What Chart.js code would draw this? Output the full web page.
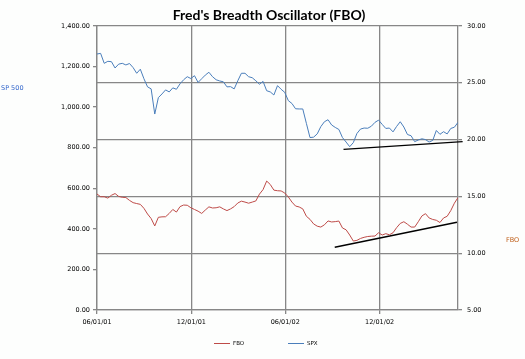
<!DOCTYPE html>
<html>
<head>
<meta charset="utf-8">
<script src="https://cdn.jsdelivr.net/npm/chart.js@4.4.0/dist/chart.umd.min.js"></script>
<style>
html, body { margin: 0; padding: 0; background: #fdfefd; }
#wrap { width: 525px; height: 359px; }
</style>
</head>
<body>
<div id="wrap"><canvas id="c" width="525" height="359"></canvas></div>
<script>
var chartTitle = "Fred's Breadth Oscillator (FBO)";
var startDate = '2001-06-01';   // first weekly reading

// weekly closes
var spx = [1262, 1265, 1216, 1226, 1224, 1193, 1212, 1216, 1208, 1215,
    1195, 1167, 1187, 1140, 1100, 1090, 966, 1047, 1065, 1085,
    1075, 1095, 1088, 1115, 1135, 1150, 1141, 1155, 1122, 1140,
    1158, 1172, 1150, 1135, 1129, 1125, 1100, 1101, 1090, 1130,
    1167, 1167, 1150, 1145, 1130, 1113, 1127, 1081, 1075, 1060,
    1106, 1088, 1073, 1032, 1018, 992, 991, 991, 920, 850,
    852, 868, 904, 928, 938, 912, 900, 890, 850, 828,
    805, 825, 870, 892, 897, 896, 906, 925, 936, 915,
    895, 897, 878, 905, 928, 902, 865, 859, 830, 838,
    844, 840, 828, 836, 885, 866, 879, 868, 895, 901,
    925];

var fbo = [15.21, 14.97, 14.97, 14.85, 15.1, 15.25, 15.0, 14.92, 14.9, 14.65,
    14.45, 14.37, 14.3, 13.95, 13.45, 13.05, 12.4, 13.16, 13.2, 13.21,
    13.5, 13.85, 13.62, 14.1, 14.24, 14.22, 14.0, 13.85, 13.7, 13.5,
    13.8, 14.08, 13.98, 14.0, 14.08, 13.9, 13.75, 13.9, 14.1, 14.42,
    14.58, 14.5, 14.4, 14.5, 14.6, 15.2, 15.6, 16.35, 16.05, 15.55,
    15.5, 15.48, 15.3, 14.95, 14.5, 14.15, 14.07, 13.9, 13.25, 12.98,
    12.58, 12.38, 12.3, 12.5, 12.84, 12.75, 12.78, 12.83, 12.22, 12.06,
    11.6, 11.07, 11.13, 11.3, 11.4, 11.47, 11.5, 11.51, 11.8, 11.6,
    11.72, 11.62, 11.8, 12.25, 12.62, 12.77, 12.55, 12.3, 12.3, 12.77,
    13.28, 13.48, 13.1, 12.97, 12.9, 12.7, 13.1, 13.25, 13.75, 14.4,
    14.9];

// hand drawn support lines
var spxTrendDates = ['2002-09-22', '2003-05-11'];
var spxTrendValues = [792, 830];
var fboTrendDates = ['2002-09-05', '2003-04-30'];
var fboTrendValues = [10.52, 12.72];

var xTickDates = ['2001-06-01', '2001-12-01', '2002-06-01', '2002-12-01'];
var xTickLabels = ['06/01/01', '12/01/01', '06/01/02', '12/01/02'];

var gridColor = '#878787';
var tickFont = { family: 'DejaVu Sans', size: 6.5 };

function dayOf(s) {
    return (Date.parse(s) - Date.parse(startDate)) / 86400000;
}

function weekly(values) {
    return values.map(function (v, i) { return { x: i * 7, y: v }; });
}

function pairs(dates, values) {
    return dates.map(function (d, i) { return { x: dayOf(d), y: values[i] }; });
}

function money(v) {
    return Number(v).toLocaleString('en-US', { minimumFractionDigits: 2, maximumFractionDigits: 2 });
}

var series = [
    { label: 'FBO', color: '#be4b48' },
    { label: 'SPX', color: '#4a7ebb' }
];

// title, the two axis names and the legend
var textPlugin = {
    id: 'texts',
    afterDraw: function (chart) {
        var ctx = chart.ctx;
        ctx.save();
        ctx.textBaseline = 'middle';

        ctx.fillStyle = '#000';
        ctx.textAlign = 'center';
        ctx.font = "bold 14px 'Liberation Sans Narrow', Lato, sans-serif";
        ctx.fillText(chartTitle, 269, 15);

        ctx.textAlign = 'left';
        ctx.font = '6.5px DejaVu Sans';
        ctx.fillStyle = '#3366cc';
        ctx.fillText('SP 500', 1, 88);
        ctx.fillStyle = '#c0601c';
        ctx.fillText('FBO', 506, 240);

        var lx = [214, 288];
        ctx.font = '5.5px DejaVu Sans';
        for (var i = 0; i < series.length; i++) {
            ctx.strokeStyle = series[i].color;
            ctx.lineWidth = 1;
            ctx.beginPath();
            ctx.moveTo(lx[i], 343.5);
            ctx.lineTo(lx[i] + 16, 343.5);
            ctx.stroke();
            ctx.fillStyle = '#000';
            ctx.fillText(series[i].label, lx[i] + 19, 343.5);
        }
        ctx.restore();
    }
};

var ctx = document.getElementById('c').getContext('2d');
new Chart(ctx, {
    type: 'line',
    data: {
        datasets: [
            { label: 'FBO', data: weekly(fbo), yAxisID: 'y1', borderColor: series[0].color, borderWidth: 1, pointRadius: 0, tension: 0 },
            { label: 'SPX', data: weekly(spx), yAxisID: 'y', borderColor: series[1].color, borderWidth: 1, pointRadius: 0, tension: 0 },
            { label: 'spxTrend', data: pairs(spxTrendDates, spxTrendValues), yAxisID: 'y', borderColor: '#000', borderWidth: 1.4, pointRadius: 0, clip: false },
            { label: 'fboTrend', data: pairs(fboTrendDates, fboTrendValues), yAxisID: 'y1', borderColor: '#000', borderWidth: 1.4, pointRadius: 0, clip: false }
        ]
    },
    options: {
        responsive: false,
        animation: false,
        devicePixelRatio: 1,
        layout: { padding: { left: 0, right: 0, top: 26, bottom: 30 } },
        plugins: { legend: { display: false }, tooltip: { enabled: false } },
        scales: {
            x: {
                type: 'linear',
                min: 0,
                max: 700,
                afterBuildTicks: function (s) {
                    s.ticks = xTickDates.map(function (d) { return { value: dayOf(d) }; });
                },
                afterFit: function (s) { s.height = 19; },
                ticks: {
                    autoSkip: false, maxRotation: 0, padding: 4, color: '#000', font: tickFont,
                    callback: function (v, i) { return xTickLabels[i]; }
                },
                grid: { color: gridColor, lineWidth: 1.3, tickLength: 4 },
                border: { color: gridColor, width: 1.3 }
            },
            y: {
                position: 'left',
                min: 0,
                max: 1400,
                afterFit: function (s) { s.width = 97; },
                ticks: { stepSize: 200, padding: 3, color: '#000', font: tickFont, callback: money },
                grid: { drawOnChartArea: false, color: gridColor, lineWidth: 1.3, tickLength: 4 },
                border: { color: gridColor, width: 1.3 }
            },
            y1: {
                position: 'right',
                min: 5,
                max: 30,
                afterFit: function (s) { s.width = 67; },
                ticks: { stepSize: 5, padding: 5, color: '#000', font: tickFont, callback: money },
                grid: { color: gridColor, lineWidth: 1.3, tickLength: 4 },
                border: { color: gridColor, width: 1.3 }
            }
        }
    },
    plugins: [textPlugin]
});
</script>
</body>
</html>
